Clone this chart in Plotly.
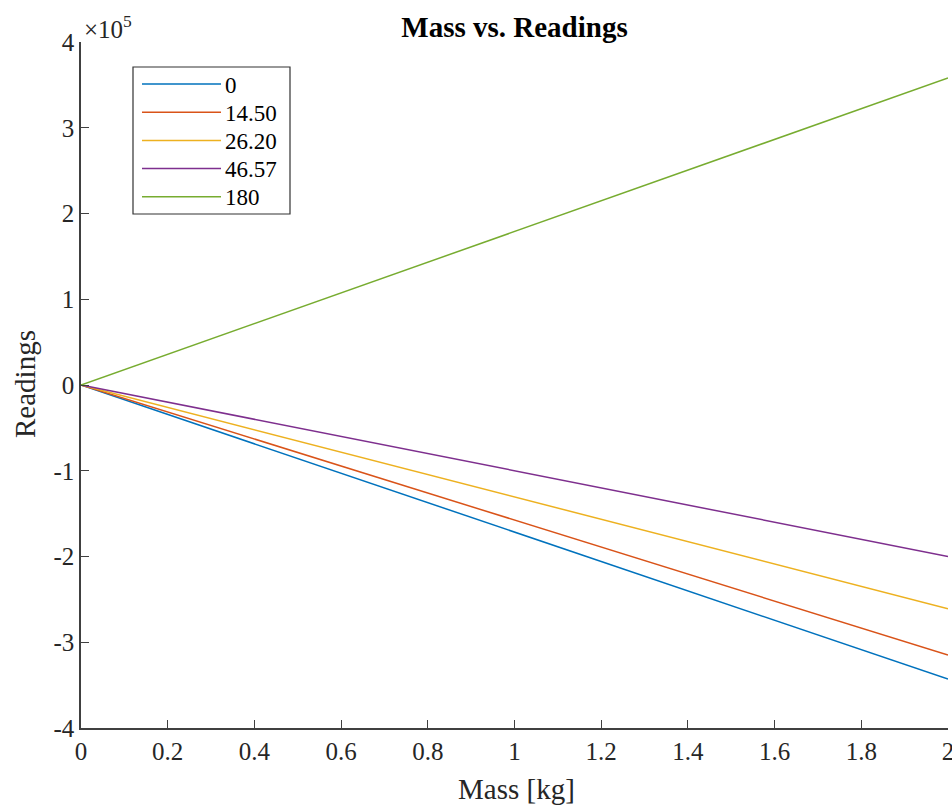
import plotly.graph_objects as go

# Data
mass_kg = [0, 2]
series_names = ["0", "14.50", "26.20", "46.57", "180"]
readings_end = [-3.43e5, -3.15e5, -2.61e5, -2.00e5, 3.58e5]
colors = ["#0072BD", "#D95319", "#EDB120", "#7E2F8E", "#77AC30"]
x_ticks = [0, 0.2, 0.4, 0.6, 0.8, 1.0, 1.2, 1.4, 1.6, 1.8, 2.0]
x_tick_text = ["0", "0.2", "0.4", "0.6", "0.8", "1", "1.2", "1.4", "1.6", "1.8", "2"]
y_ticks = [-4e5, -3e5, -2e5, -1e5, 0, 1e5, 2e5, 3e5, 4e5]
y_tick_text = ["-4", "-3", "-2", "-1", "0", "1", "2", "3", "4"]

W, H = 952, 805
ML, MR, MT, MB = 81, 4, 42, 77
PW, PH = W - ML - MR, H - MT - MB

def px(x):
    return (x - ML) / PW

def py(y):
    return (H - MB - y) / PH

FONT = "Liberation Serif, Times New Roman, serif"
AX = "#404040"
TXT = "#262626"

fig = go.Figure()
for name, yend, c in zip(series_names, readings_end, colors):
    fig.add_trace(go.Scatter(x=mass_kg, y=[0, yend], mode="lines", name=name,
                             line=dict(color=c, width=1.5), showlegend=False))

# manual legend (MATLAB style)
shapes = [dict(type="rect", xref="paper", yref="paper", x0=px(133), x1=px(290),
               y0=py(214), y1=py(67), line=dict(color="#333333", width=1.2),
               fillcolor="white", layer="above")]
annotations = []
for i, (name, c) in enumerate(zip(series_names, colors)):
    yy = 84 + i * 28.2
    shapes.append(dict(type="line", xref="paper", yref="paper", x0=px(142), x1=px(221),
                       y0=py(yy), y1=py(yy), line=dict(color=c, width=1.5), layer="above"))
    annotations.append(dict(xref="paper", yref="paper", x=px(223), y=py(yy + 1), text=name,
                            showarrow=False, xanchor="left", yanchor="middle",
                            font=dict(family=FONT, size=23, color="#000000")))

annotations.append(dict(xref="paper", yref="paper", x=px(82), y=py(27), text="×10<sup>5</sup>",
                        showarrow=False, xanchor="left", yanchor="middle",
                        font=dict(family=FONT, size=25, color=TXT)))
annotations.append(dict(xref="paper", yref="paper", x=px(516), y=py(789), text="Mass [kg]",
                        showarrow=False, xanchor="center", yanchor="middle",
                        font=dict(family=FONT, size=29, color=TXT)))
annotations.append(dict(xref="paper", yref="paper", x=px(25), y=py(384), text="Readings",
                        showarrow=False, xanchor="center", yanchor="middle", textangle=-90,
                        font=dict(family=FONT, size=29, color=TXT)))

fig.update_layout(
    width=W, height=H,
    margin=dict(l=ML, r=MR, t=MT, b=MB, autoexpand=False),
    paper_bgcolor="white", plot_bgcolor="white",
    title=dict(text="<b>Mass vs. Readings</b>", x=(ML + PW / 2) / W, xanchor="center",
               y=1 - 27 / H, yanchor="middle",
               font=dict(family=FONT, size=29, color="#000000")),
    font=dict(family=FONT, size=25, color=TXT),
    shapes=shapes, annotations=annotations,
    showlegend=False,
)
fig.update_xaxes(range=[0, 2], tickvals=x_ticks, ticktext=x_tick_text, automargin=False,
                 ticklabeloverflow="allow",
                 showgrid=False, zeroline=False, showline=True, linecolor=AX, linewidth=1.5,
                 ticks="inside", ticklen=8, tickcolor=AX, tickwidth=1.2,
                 tickfont=dict(family=FONT, size=25, color=TXT))
fig.update_yaxes(range=[-4e5, 4e5], tickvals=y_ticks, ticktext=y_tick_text, automargin=False,
                 ticklabeloverflow="allow",
                 showgrid=False, zeroline=False, showline=True, linecolor=AX, linewidth=1.5,
                 ticks="inside", ticklen=8, tickcolor=AX, tickwidth=1.2,
                 tickfont=dict(family=FONT, size=25, color=TXT))

fig.write_html("out.html", config={"displayModeBar": False},
               post_script="document.body.style.margin='0';document.body.style.overflow='hidden';")
